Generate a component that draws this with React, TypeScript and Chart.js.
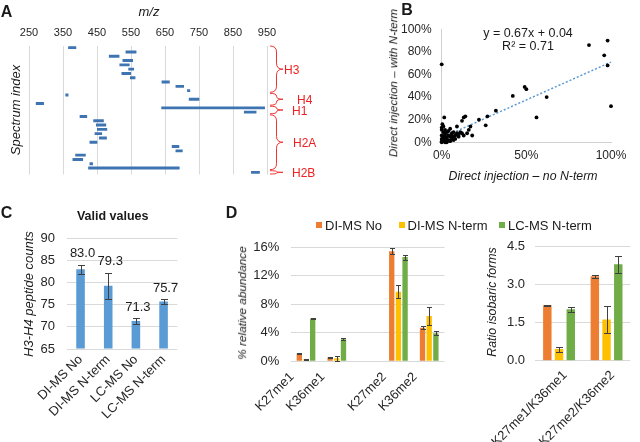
import React, { useEffect, useRef } from "react";
import { Chart, registerables } from "chart.js";
Chart.register(...registerables);

const FONT = "'Liberation Sans', Arial, Helvetica, sans-serif";
const TXT = "#262626";
const GRID = "#d9d9d9";
Chart.defaults.font.family = FONT;
Chart.defaults.color = TXT;

// ---------- Panel A data ----------
const spectrumRows = ["1","2","3","4","5","6","7","8","9","10","11","12","13","14","15","16","17","18","19","20","21","22","23","24","25","26","27","28","29","30"];
const mzStart = [366,535,486,526,517,543,523,548,641,682,716,358,721,271,640,883,400,440,448,451,444,457,429,671,682,387,379,429,425,904];
const mzEnd = [388,565,515,555,545,558,549,562,663,705,723,365,750,293,943,918,420,469,476,479,464,478,450,691,701,416,408,437,692,928];
const histoneGroups = ["H3","H4","H1","H2A","H2B"];
const groupFirstRow = [1,12,15,17,30];
const groupLastRow = [11,14,16,29,30];

// ---------- Panel B data ----------
const noNterm = [0.00,0.87,0.98,0.96,0.98,1.00,0.49,0.50,0.42,0.62,0.56,0.32,0.27,0.26,0.22,0.14,0.13,0.12,0.17,0.16,0.18,0.12,0.015,0.004,0.09,0.00,0.01,0.02,0.00,0.01,0.02,0.03,0.04,0.05,0.06,0.03,0.02,0.01,0.00,0.02,0.04,0.05,0.07,0.08,0.09,0.10,0.11,0.06,0.07,0.03,0.05,0.00,0.01,0.08,0.10,0.13,0.04,0.00,0.02,0.00,0.01,0.06,0.15,0.03,0.07];
const withNterm = [0.69,0.86,0.90,0.77,0.68,0.32,0.49,0.47,0.41,0.40,0.22,0.28,0.23,0.15,0.20,0.23,0.22,0.19,0.14,0.11,0.06,0.08,0.22,0.16,0.14,0.00,0.01,0.00,0.03,0.05,0.02,0.01,0.02,0.01,0.03,0.04,0.07,0.09,0.11,0.11,0.06,0.05,0.05,0.06,0.08,0.07,0.09,0.08,0.09,0.09,0.12,0.13,0.14,0.03,0.05,0.06,0.10,0.06,0.05,0.01,0.03,0.06,0.08,0.00,0.02];
const trendSlope = 0.67;
const trendIntercept = 0.04;
const trendX = [0, 1];

// ---------- Panel C data ----------
const cCategories = ["DI-MS No", "DI-MS N-term", "LC-MS No", "LC-MS N-term"];
const cValues = [83.0, 79.3, 71.3, 75.7];
const cErrors = [1.0, 2.9, 0.6, 0.5];

// ---------- Panel D data ----------
const dSeries = ["DI-MS No", "DI-MS N-term", "LC-MS N-term"];
const dColors = ["#ed7d31", "#ffc000", "#70ad47"];
const dLeftCategories = ["K27me1", "K36me1", "", "K27me2", "K36me2"];
const dLeftDiNo = [1.1, 0.55, null, 15.4, 4.7];
const dLeftDiNoErr = [0.1, 0.05, null, 0.4, 0.2];
const dLeftDiNterm = [0.3, 0.42, null, 9.75, 6.35];
const dLeftDiNtermErr = [0.05, 0.35, null, 0.95, 1.3];
const dLeftLcNterm = [6.0, 3.1, null, 14.6, 3.92];
const dLeftLcNtermErr = [0.1, 0.1, null, 0.35, 0.3];
const dRightCategories = ["K27me1/K36me1", "K27me2/K36me2"];
const dRightDiNo = [2.19, 3.33];
const dRightDiNoErr = [0.02, 0.05];
const dRightDiNterm = [0.46, 1.63];
const dRightDiNtermErr = [0.1, 0.52];
const dRightLcNterm = [2.03, 3.81];
const dRightLcNtermErr = [0.1, 0.33];

// ---------- plugins ----------
const errorBarPlugin = {
  id: "errorBars",
  afterDatasetsDraw(chart: any, _a: any, opts: any) {
    const ctx = chart.ctx;
    const ys = chart.scales.y;
    const cap = (opts && opts.cap) || 3;
    chart.data.datasets.forEach((ds: any, i: number) => {
      const errs = ds.errors;
      if (!errs) return;
      const meta = chart.getDatasetMeta(i);
      meta.data.forEach((el: any, j: number) => {
        const v = ds.data[j];
        const e = errs[j];
        if (v == null || e == null) return;
        const x = Math.round(el.x) + 0.5;
        const yt = Math.round(ys.getPixelForValue(v + e)) + 0.5;
        const yb = Math.round(ys.getPixelForValue(v - e)) + 0.5;
        ctx.save();
        ctx.strokeStyle = "#404040";
        ctx.lineWidth = 1;
        ctx.beginPath();
        ctx.moveTo(x, yt); ctx.lineTo(x, yb);
        ctx.moveTo(x - cap, yt); ctx.lineTo(x + cap, yt);
        ctx.moveTo(x - cap, yb); ctx.lineTo(x + cap, yb);
        ctx.stroke();
        ctx.restore();
      });
    });
  },
};

const valueLabelPlugin = {
  id: "valueLabels",
  afterDatasetsDraw(chart: any) {
    const ctx = chart.ctx;
    const ys = chart.scales.y;
    const ds: any = chart.data.datasets[0];
    const meta = chart.getDatasetMeta(0);
    ctx.save();
    ctx.font = `13px ${FONT}`;
    ctx.fillStyle = "#1a1a1a";
    ctx.textAlign = "center";
    ctx.textBaseline = "middle";
    meta.data.forEach((el: any, j: number) => {
      const v = ds.data[j];
      const top = ys.getPixelForValue(v + (ds.errors ? ds.errors[j] : 0));
      ctx.fillText(v.toFixed(1), el.x + 2, top - 11);
    });
    ctx.restore();
  },
};

const labelGapAfterTip = [1, 14, 9, 10, 9];
const bracePlugin = {
  id: "braces",
  afterDraw(chart: any) {
    const ctx = chart.ctx;
    const ys = chart.scales.y;
    const area = chart.chartArea;
    const band = (area.bottom - area.top) / spectrumRows.length;
    const x0 = area.right + 3;
    const x1 = area.right + 16;
    const xm = (x0 + x1) / 2;
    ctx.save();
    ctx.strokeStyle = "#ee3333";
    ctx.fillStyle = "#ee2222";
    ctx.lineWidth = 1;
    ctx.font = `12px ${FONT}`;
    ctx.textBaseline = "middle";
    ctx.textAlign = "left";
    histoneGroups.forEach((g, k) => {
      const top = ys.getPixelForValue(groupFirstRow[k] - 1) - band / 2 + 0.5;
      const bot = ys.getPixelForValue(groupLastRow[k] - 1) + band / 2 - 0.5;
      const mid = (top + bot) / 2;
      const r = Math.min(6, (bot - top) / 4);
      ctx.beginPath();
      ctx.moveTo(x0, top);
      ctx.quadraticCurveTo(xm, top, xm, top + r);
      ctx.lineTo(xm, mid - r);
      ctx.quadraticCurveTo(xm, mid, x1, mid);
      ctx.quadraticCurveTo(xm, mid, xm, mid + r);
      ctx.lineTo(xm, bot - r);
      ctx.quadraticCurveTo(xm, bot, x0, bot);
      ctx.stroke();
      ctx.fillText(g, x1 + labelGapAfterTip[k], mid + 1.5);
    });
    ctx.restore();
  },
};

// ---------- helpers ----------
function ChartBox(props: { left: number; top: number; width: number; height: number; make: () => any }) {
  const ref = useRef<HTMLCanvasElement>(null);
  useEffect(() => {
    const chart = new Chart(ref.current as HTMLCanvasElement, props.make());
    return () => chart.destroy();
  }, []);
  return (
    <canvas
      ref={ref}
      width={props.width}
      height={props.height}
      style={{ position: "absolute", left: props.left, top: props.top, width: props.width, height: props.height }}
    />
  );
}

function Txt(props: { x: number; y: number; text: string; size?: number; bold?: boolean; italic?: boolean; rot?: number; color?: string }) {
  return (
    <div
      style={{
        position: "absolute",
        left: props.x,
        top: props.y,
        transform: `translate(-50%, -50%) rotate(${props.rot || 0}deg)`,
        whiteSpace: "nowrap",
        fontFamily: FONT,
        fontSize: props.size || 12,
        fontWeight: props.bold ? 700 : 400,
        fontStyle: props.italic ? "italic" : "normal",
        color: props.color || "#1a1a1a",
        lineHeight: 1,
      }}
    >
      {props.text}
    </div>
  );
}

const noPlugins = { legend: { display: false }, tooltip: { enabled: false } };

// ---------- chart configs ----------
const makeA = () => ({
  type: "bar",
  data: {
    labels: spectrumRows,
    datasets: [
      {
        data: mzStart.map((s, i) => [s, mzEnd[i]]),
        backgroundColor: "#3f74b2",
        barThickness: 2.2,
      },
    ],
  },
  options: {
    indexAxis: "y",
    responsive: false,
    animation: false,
    layout: { padding: { left: 29, right: 53, top: 0, bottom: 25.5 } },
    plugins: noPlugins,
    scales: {
      x: {
        position: "top",
        min: 250,
        max: 950,
        ticks: { stepSize: 100, padding: 6, font: { size: 11 }, color: TXT },
        grid: { color: GRID, drawTicks: false },
        border: { display: false },
        afterFit: (s: any) => { s.height = 45.5; },
      },
      y: { display: false },
    },
  },
  plugins: [bracePlugin],
});

const makeB = () => ({
  type: "scatter",
  data: {
    datasets: [
      {
        data: noNterm.map((x, i) => ({ x, y: withNterm[i] })),
        backgroundColor: "#000",
        borderWidth: 0,
        pointRadius: 1.9,
        clip: false,
      },
      {
        data: trendX.map((x) => ({ x, y: trendSlope * x + trendIntercept })),
        showLine: true,
        borderColor: "#5b9bd5",
        borderWidth: 1.5,
        borderDash: [2, 2],
        pointRadius: 0,
        clip: false,
      },
    ],
  },
  options: {
    responsive: false,
    animation: false,
    layout: { padding: { left: 0, right: 29, top: 29.3, bottom: 0 } },
    plugins: noPlugins,
    scales: {
      x: {
        type: "linear",
        min: 0,
        max: 1,
        ticks: { stepSize: 0.5, padding: 6.5, font: { size: 12 }, color: TXT, callback: (v: number) => Math.round(v * 100) + "%" },
        grid: { display: false, drawTicks: false },
        border: { color: "#d0d0d0" },
        afterFit: (s: any) => { s.height = 57.7; },
      },
      y: {
        min: 0,
        max: 1,
        ticks: { stepSize: 0.2, padding: 10, font: { size: 12 }, color: TXT, callback: (v: number) => Math.round(v * 100) + "%" },
        grid: { display: false, drawTicks: false },
        border: { color: "#d0d0d0" },
        afterFit: (s: any) => { s.width = 41.7; },
      },
    },
  },
});

const makeC = () => ({
  type: "bar",
  data: {
    labels: cCategories,
    datasets: [
      {
        data: cValues,
        errors: cErrors,
        base: 65,
        backgroundColor: "#5b9bd5",
        barPercentage: 0.31,
        categoryPercentage: 1,
      },
    ],
  },
  options: {
    responsive: false,
    animation: false,
    layout: { padding: { left: 0, right: 22.6, top: 38.3, bottom: 0 } },
    plugins: { ...noPlugins, errorBars: { cap: 3.5 } },
    scales: {
      x: {
        ticks: { minRotation: 45, maxRotation: 45, autoSkip: false, padding: 3, font: { size: 13 }, color: TXT },
        grid: { display: false, drawTicks: false },
        border: { display: false },
        afterFit: (s: any) => { s.height = 93; },
      },
      y: {
        min: 65,
        max: 90,
        ticks: { stepSize: 5, padding: 11.7, font: { size: 13 }, color: TXT },
        grid: { color: GRID, drawTicks: false },
        border: { display: false },
        afterFit: (s: any) => { s.width = 66.7; },
      },
    },
  },
  plugins: [errorBarPlugin, valueLabelPlugin],
});

const makeDLeft = () => ({
  type: "bar",
  data: {
    labels: dLeftCategories,
    datasets: [
      { label: dSeries[0], data: dLeftDiNo, errors: dLeftDiNoErr, backgroundColor: dColors[0] },
      { label: dSeries[1], data: dLeftDiNterm, errors: dLeftDiNtermErr, backgroundColor: dColors[1] },
      { label: dSeries[2], data: dLeftLcNterm, errors: dLeftLcNtermErr, backgroundColor: dColors[2] },
    ].map((d) => ({ ...d, barPercentage: 0.8, categoryPercentage: 0.65 })),
  },
  options: {
    responsive: false,
    animation: false,
    layout: { padding: { left: 0, right: 5.4, top: 47, bottom: 0 } },
    plugins: { ...noPlugins, errorBars: { cap: 2.5 } },
    scales: {
      x: {
        ticks: { minRotation: 45, maxRotation: 45, autoSkip: false, padding: 8, labelOffset: -14, font: { size: 13 }, color: TXT },
        grid: { display: false, drawTicks: false },
        border: { display: false },
        afterFit: (s: any) => { s.height = 80.7; },
      },
      y: {
        min: 0,
        max: 16,
        ticks: { stepSize: 4, padding: 11.3, font: { size: 13 }, color: TXT, callback: (v: number) => v + "%" },
        grid: { color: GRID, drawTicks: false },
        border: { display: false },
        afterFit: (s: any) => { s.width = 90.6; },
      },
    },
  },
  plugins: [errorBarPlugin],
});

const makeDRight = () => ({
  type: "bar",
  data: {
    labels: dRightCategories,
    datasets: [
      { label: dSeries[0], data: dRightDiNo, errors: dRightDiNoErr, backgroundColor: dColors[0] },
      { label: dSeries[1], data: dRightDiNterm, errors: dRightDiNtermErr, backgroundColor: dColors[1] },
      { label: dSeries[2], data: dRightLcNterm, errors: dRightLcNtermErr, backgroundColor: dColors[2] },
    ].map((d) => ({ ...d, barPercentage: 0.72, categoryPercentage: 0.74 })),
  },
  options: {
    responsive: false,
    animation: false,
    layout: { padding: { left: 0, right: 9.7, top: 46.7, bottom: 0 } },
    plugins: { ...noPlugins, errorBars: { cap: 3.5 } },
    scales: {
      x: {
        ticks: { minRotation: 45, maxRotation: 45, autoSkip: false, padding: 7, labelOffset: 6, font: { size: 13 }, color: TXT },
        grid: { display: false, drawTicks: false },
        border: { display: false },
        afterFit: (s: any) => { s.height = 81.3; },
      },
      y: {
        min: 0,
        max: 4.5,
        ticks: { stepSize: 1.5, padding: 10.3, font: { size: 13 }, color: TXT, callback: (v: number) => v.toFixed(1) },
        grid: { color: GRID, drawTicks: false },
        border: { display: false },
        afterFit: (s: any) => { s.width = 85.3; },
      },
    },
  },
  plugins: [errorBarPlugin],
});

const legendX = [316, 398.5, 499];

export default function App() {
  return (
    <div style={{ position: "fixed", left: 0, top: 0, width: 640, height: 442, background: "#fff", overflow: "hidden" }}>
      <ChartBox left={0} top={0} width={320} height={200} make={makeA} />
      <ChartBox left={400} top={0} width={240} height={200} make={makeB} />
      <ChartBox left={0} top={200} width={200} height={242} make={makeC} />
      <ChartBox left={200} top={200} width={250} height={242} make={makeDLeft} />
      <ChartBox left={450} top={200} width={190} height={242} make={makeDRight} />

      <Txt x={6.5} y={11.5} text="A" size={16} bold />
      <Txt x={149} y={11} text="m/z" size={13} italic />
      <Txt x={15} y={110} text="Spectrum index" size={13} italic rot={-90} />

      <Txt x={407} y={10} text="B" size={16} bold />
      <Txt x={528} y={33.3} text="y = 0.67x + 0.04" size={12.5} />
      <Txt x={528} y={46} text="R² = 0.71" size={12.5} />
      <Txt x={523} y={175.7} text="Direct injection – no N-term" size={12.3} italic />
      <Txt x={393.3} y={83.3} text="Direct injection – with N-term" size={11.6} italic rot={-90} />

      <Txt x={6.5} y={212.5} text="C" size={16} bold />
      <Txt x={112.7} y={215.7} text="Valid values" size={12.5} bold />
      <Txt x={28.3} y={293.5} text="H3-H4 peptide counts" size={13} italic rot={-90} />

      <Txt x={231.5} y={212.5} text="D" size={16} bold />
      <Txt x={243.3} y={303.3} text="% relative abundance" size={11.8} italic rot={-90} />
      <Txt x={491.7} y={301.7} text="Ratio isobaric forms" size={12.4} italic rot={-90} />

      {dSeries.map((s, i) => (
        <React.Fragment key={s}>
          <div style={{ position: "absolute", left: legendX[i], top: 222, width: 6, height: 6, background: dColors[i] }} />
          <div
            style={{
              position: "absolute",
              left: legendX[i] + 9,
              top: 225,
              transform: "translateY(-50%)",
              fontFamily: FONT,
              fontSize: 13,
              lineHeight: 1,
              whiteSpace: "nowrap",
              color: "#1a1a1a",
            }}
          >
            {s}
          </div>
        </React.Fragment>
      ))}
    </div>
  );
}
